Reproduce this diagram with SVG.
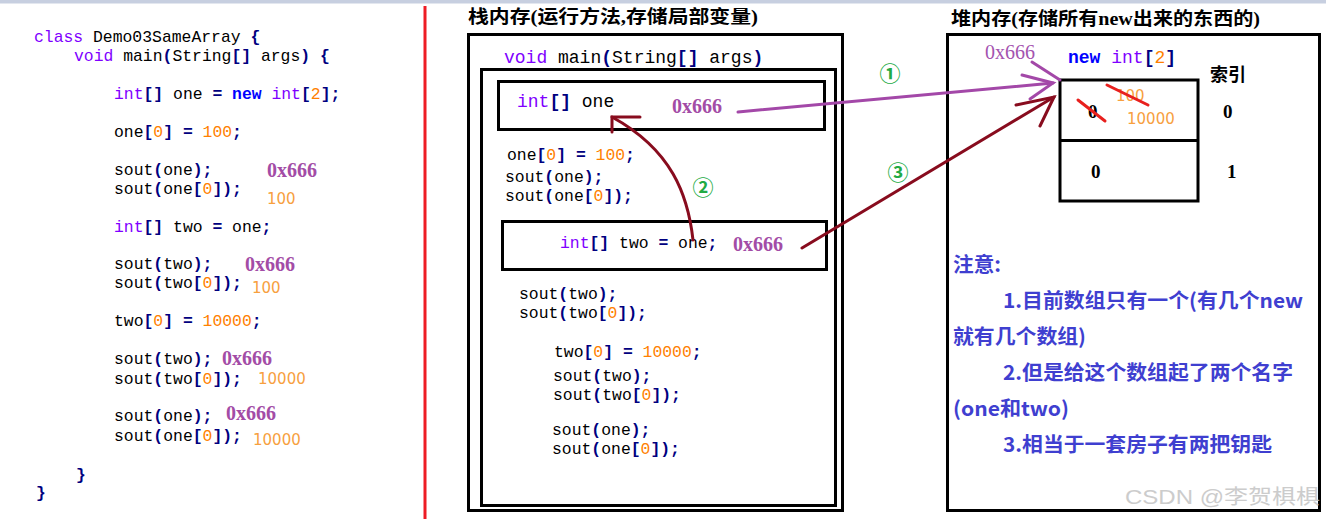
<svg xmlns="http://www.w3.org/2000/svg" width="1326" height="519" viewBox="0 0 1326 519" xml:space="preserve">
<style>
text{white-space:pre}
.c{font-family:"Liberation Mono","DejaVu Sans Mono",monospace;font-size:16.4px;fill:#000}
.m{font-family:"Liberation Mono","DejaVu Sans Mono",monospace;font-size:18px;fill:#000}
.kw{fill:#8000ff}
.nw{fill:#0000ff;font-weight:bold}
.op{fill:#000080;font-weight:bold}
.num{fill:#ff8000}
.addr{font-family:"Liberation Serif",serif;font-size:20px;font-weight:bold;fill:#a34ca6}
.val{font-family:"DejaVu Sans",sans-serif;font-size:15px;fill:#f7a03e}
.title{font-family:"Liberation Serif","Noto Sans CJK SC",serif;font-size:18px;font-weight:bold;fill:#000}
.note{font-family:"Noto Sans CJK SC",sans-serif;font-size:20px;font-weight:bold;fill:#3f3fd0}
.box{fill:none;stroke:#000;stroke-width:3}
.circ{font-family:"Noto Sans CJK SC",sans-serif;font-size:21px;font-weight:bold;fill:#22aa44;text-anchor:middle}
.cell{font-family:"Liberation Serif",serif;font-size:19px;font-weight:bold;fill:#000}
.strike{stroke:#e8201e;stroke-width:3;fill:none;stroke-linecap:round}
.pl{stroke:#a348a8;stroke-width:3;fill:none;stroke-linecap:round}
.dr{stroke:#880c1e;stroke-width:3;fill:none;stroke-linecap:round}
</style>
<rect x="0" y="0" width="1326" height="519" fill="#fff"/>
<rect x="0" y="0" width="1326" height="3.5" fill="#c7cfe0"/>
<rect x="423.5" y="6" width="3" height="513" fill="#ee1c25"/>

<g id="source-code">
<text class="c" x="34" y="42"><tspan class="kw">class</tspan> Demo03SameArray <tspan class="op">{</tspan></text>
<text class="c" x="74" y="61"><tspan class="kw">void</tspan> main<tspan class="op">(</tspan>String<tspan class="op">[]</tspan> args<tspan class="op">)</tspan> <tspan class="op">{</tspan></text>
<text class="c" x="114" y="99"><tspan class="kw">int</tspan><tspan class="op">[]</tspan> one <tspan class="op">=</tspan> <tspan class="nw">new</tspan> <tspan class="kw">int</tspan><tspan class="op">[</tspan><tspan class="num">2</tspan><tspan class="op">];</tspan></text>
<text class="c" x="114" y="137">one<tspan class="op">[</tspan><tspan class="num">0</tspan><tspan class="op">]</tspan> <tspan class="op">=</tspan> <tspan class="num">100</tspan><tspan class="op">;</tspan></text>
<text class="c" x="114" y="175">sout<tspan class="op">(</tspan>one<tspan class="op">);</tspan></text>
<text class="c" x="114" y="194">sout<tspan class="op">(</tspan>one<tspan class="op">[</tspan><tspan class="num">0</tspan><tspan class="op">]);</tspan></text>
<text class="c" x="114" y="232"><tspan class="kw">int</tspan><tspan class="op">[]</tspan> two <tspan class="op">=</tspan> one<tspan class="op">;</tspan></text>
<text class="c" x="114" y="269">sout<tspan class="op">(</tspan>two<tspan class="op">);</tspan></text>
<text class="c" x="114" y="288">sout<tspan class="op">(</tspan>two<tspan class="op">[</tspan><tspan class="num">0</tspan><tspan class="op">]);</tspan></text>
<text class="c" x="114" y="326">two<tspan class="op">[</tspan><tspan class="num">0</tspan><tspan class="op">]</tspan> <tspan class="op">=</tspan> <tspan class="num">10000</tspan><tspan class="op">;</tspan></text>
<text class="c" x="114" y="364">sout<tspan class="op">(</tspan>two<tspan class="op">);</tspan></text>
<text class="c" x="114" y="384">sout<tspan class="op">(</tspan>two<tspan class="op">[</tspan><tspan class="num">0</tspan><tspan class="op">]);</tspan></text>
<text class="c" x="114" y="421">sout<tspan class="op">(</tspan>one<tspan class="op">);</tspan></text>
<text class="c" x="114" y="441">sout<tspan class="op">(</tspan>one<tspan class="op">[</tspan><tspan class="num">0</tspan><tspan class="op">]);</tspan></text>
<text class="c" x="76" y="480"><tspan class="op">}</tspan></text>
<text class="c" x="36" y="498"><tspan class="op">}</tspan></text>
<text class="addr" x="267" y="177">0x666</text>
<text class="val" x="267" y="204">100</text>
<text class="addr" x="245" y="271">0x666</text>
<text class="val" x="252" y="293">100</text>
<text class="addr" x="222" y="365">0x666</text>
<text class="val" x="258" y="384">10000</text>
<text class="addr" x="226" y="420">0x666</text>
<text class="val" x="253" y="445">10000</text>
</g>

<g id="stack">
<text class="title" x="468" y="23" textLength="290" lengthAdjust="spacingAndGlyphs">栈内存(运行方法,存储局部变量)</text>
<rect class="box" x="468.5" y="34.5" width="374" height="476"/>
<text class="m" x="504" y="63"><tspan class="kw">void</tspan> main<tspan class="op">(</tspan>String<tspan class="op">[]</tspan> args<tspan class="op">)</tspan></text>
<rect class="box" x="481.5" y="69.5" width="354" height="436"/>
</g>

<g id="var-one">
<rect class="box" x="498.5" y="81.5" width="326" height="48"/>
<text class="m" x="517" y="107"><tspan class="kw">int</tspan><tspan class="op">[]</tspan> one</text>
<text class="addr" x="672" y="113">0x666</text>
</g>

<g id="stack-code-1">
<text class="c" x="507" y="160">one<tspan class="op">[</tspan><tspan class="num">0</tspan><tspan class="op">]</tspan> <tspan class="op">=</tspan> <tspan class="num">100</tspan><tspan class="op">;</tspan></text>
<text class="c" x="505" y="182">sout<tspan class="op">(</tspan>one<tspan class="op">);</tspan></text>
<text class="c" x="505" y="201">sout<tspan class="op">(</tspan>one<tspan class="op">[</tspan><tspan class="num">0</tspan><tspan class="op">]);</tspan></text>
</g>

<g id="var-two">
<rect class="box" x="502.5" y="221.5" width="324" height="48"/>
<text class="c" x="560" y="248"><tspan class="kw">int</tspan><tspan class="op">[]</tspan> two <tspan class="op">=</tspan> one<tspan class="op">;</tspan></text>
<text class="addr" x="733" y="251">0x666</text>
</g>

<g id="stack-code-2">
<text class="c" x="519" y="299">sout<tspan class="op">(</tspan>two<tspan class="op">);</tspan></text>
<text class="c" x="519" y="318">sout<tspan class="op">(</tspan>two<tspan class="op">[</tspan><tspan class="num">0</tspan><tspan class="op">]);</tspan></text>
<text class="c" x="554" y="357">two<tspan class="op">[</tspan><tspan class="num">0</tspan><tspan class="op">]</tspan> <tspan class="op">=</tspan> <tspan class="num">10000</tspan><tspan class="op">;</tspan></text>
<text class="c" x="553" y="381">sout<tspan class="op">(</tspan>two<tspan class="op">);</tspan></text>
<text class="c" x="553" y="400">sout<tspan class="op">(</tspan>two<tspan class="op">[</tspan><tspan class="num">0</tspan><tspan class="op">]);</tspan></text>
<text class="c" x="552" y="435">sout<tspan class="op">(</tspan>one<tspan class="op">);</tspan></text>
<text class="c" x="552" y="454">sout<tspan class="op">(</tspan>one<tspan class="op">[</tspan><tspan class="num">0</tspan><tspan class="op">]);</tspan></text>
</g>

<g id="heap">
<text class="title" x="951" y="25" textLength="309" lengthAdjust="spacingAndGlyphs">堆内存(存储所有new出来的东西的)</text>
<rect class="box" x="947.5" y="34.5" width="372" height="476"/>
<text x="985" y="59" style="font-family:'Liberation Serif',serif;font-size:20px;fill:#a453b0">0x666</text>
<text class="m" x="1068" y="63"><tspan class="nw">new</tspan> <tspan class="kw">int</tspan><tspan class="op">[</tspan><tspan class="num">2</tspan><tspan class="op">]</tspan></text>
<text class="title" x="1210" y="81">索引</text>
</g>

<g id="array">
<rect class="box" x="1060" y="80" width="138" height="121"/>
<line x1="1060" y1="140.5" x2="1198" y2="140.5" stroke="#000" stroke-width="3"/>
<text class="cell" x="1088" y="118">0</text>
<line class="strike" x1="1078" y1="100" x2="1105" y2="121"/>
<text class="val" x="1116" y="101">100</text>
<line class="strike" x1="1107" y1="85" x2="1148" y2="105"/>
<text class="val" x="1127" y="124">10000</text>
<text class="cell" x="1091" y="178">0</text>
<text class="cell" x="1223" y="118">0</text>
<text class="cell" x="1227" y="178">1</text>
</g>

<g id="note">
<text class="note" x="953" y="272" textLength="48" lengthAdjust="spacingAndGlyphs">注意:</text>
<text class="note" x="1003" y="308" textLength="300" lengthAdjust="spacingAndGlyphs">1.目前数组只有一个(有几个new</text>
<text class="note" x="953" y="344" textLength="133" lengthAdjust="spacingAndGlyphs">就有几个数组)</text>
<text class="note" x="1003" y="380" textLength="290" lengthAdjust="spacingAndGlyphs">2.但是给这个数组起了两个名字</text>
<text class="note" x="953" y="416" textLength="116" lengthAdjust="spacingAndGlyphs">(one和two)</text>
<text class="note" x="1003" y="452" textLength="269" lengthAdjust="spacingAndGlyphs">3.相当于一套房子有两把钥匙</text>
</g>

<g id="connectors">
<path class="pl" d="M738 112 L1053 83"/>
<path class="pl" d="M1022 75 L1053 83 L1030 99"/>
<path class="pl" d="M1032 62 L1060 80"/>
<path class="dr" d="M802 248 L1054 97"/>
<path class="dr" d="M1016 105 L1054 97 L1040 126"/>
<path class="dr" d="M693 240 C688 195 672 150 612 117"/>
<path class="dr" d="M640 117 L612 117 L612 132"/>
<text class="circ" x="890" y="81">①</text>
<text class="circ" x="703" y="195">②</text>
<text class="circ" x="898" y="180">③</text>
</g>

<text x="1125" y="504" textLength="195" lengthAdjust="spacingAndGlyphs" style="font-family:'Liberation Sans','Noto Sans CJK SC',sans-serif;font-size:20px;fill:#c4c4c4;opacity:0.85">CSDN @李贺椇椇</text>
</svg>
